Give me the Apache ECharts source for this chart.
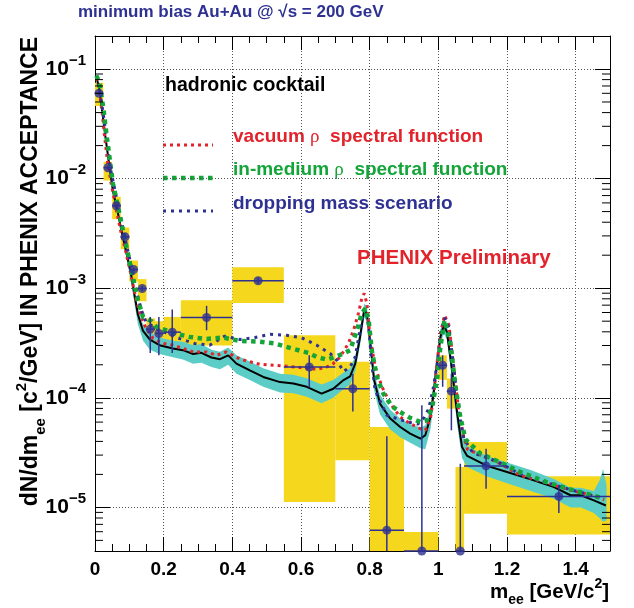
<!DOCTYPE html>
<html><head><meta charset="utf-8">
<script src="https://cdn.jsdelivr.net/npm/echarts@6/dist/echarts.min.js"></script>
<style>html,body{margin:0;padding:0;background:#fff}#c{width:634px;height:608px}</style>
</head><body><div id="c"></div>
<script>
// ---------- axis ticks / labels ----------
const xTicks = [0, 0.2, 0.4, 0.6, 0.8, 1, 1.2, 1.4];
const xTickLabels = ['0', '0.2', '0.4', '0.6', '0.8', '1', '1.2', '1.4'];
const yTicks = [1e-5, 1e-4, 1e-3, 1e-2, 1e-1];
const yTickExponents = ['\u22125', '\u22124', '\u22123', '\u22122', '\u22121'];
const X_MIN = 0, X_MAX = 1.5, Y_MIN = 4e-6, Y_MAX = 0.2;

// ---------- data points (PHENIX preliminary) ----------
const dataX   = [0.0115, 0.0375, 0.0625, 0.0875, 0.1125, 0.1375, 0.161, 0.186, 0.225, 0.325, 0.475, 0.624, 0.751, 0.850, 0.952, 1.0126, 1.038, 1.064, 1.139, 1.351];
const dataY   = [0.060, 0.01257, 0.00565, 0.00294, 0.00148, 0.000993, 4.23e-4, 3.86e-4, 3.97e-4, 5.4e-4, 1.17e-3, 1.91e-4, 1.21e-4, 6.2e-6, 4e-6, 1.98e-4, 1.15e-4, 4e-6, 2.39e-5, 1.26e-5];
const xErrLo  = [0, 0.025, 0.05, 0.075, 0.1, 0.125, 0.15, 0.175, 0.2, 0.25, 0.4, 0.55, 0.7, 0.8, 0.9, 1.0, 1.025, 1.05, 1.075, 1.2];
const xErrHi  = [0.024, 0.05, 0.075, 0.1, 0.125, 0.15, 0.175, 0.2, 0.25, 0.4, 0.55, 0.7, 0.8, 0.9, 1.0, 1.025, 1.05, 1.075, 1.2, 1.5];
const yErrLo  = [0.058, 0.0122, 0.0055, 0.00285, 0.00142, 0.00094, 2.56e-4, 2.45e-4, 2.56e-4, 4.13e-4, 1.1e-3, 1.24e-4, 7.5e-5, 4e-6, 4e-6, 1.26e-4, 5.05e-5, 4e-6, 1.48e-5, 8.87e-6];
const yErrHi  = [0.062, 0.0130, 0.0058, 0.00303, 0.00155, 0.00105, 5.47e-4, 5.47e-4, 6.4e-4, 6.9e-4, 1.25e-3, 2.44e-4, 1.66e-4, 4.45e-5, 8.55e-5, 2.44e-4, 1.66e-4, 2.5e-5, 3.43e-5, 1.59e-5];
// systematic error boxes
const sysX0 = [0, 0.025, 0.05, 0.075, 0.1, 0.125, 0.15, 0.175, 0.2, 0.25, 0.4, 0.55, 0.7, 0.8, 0.9, 1.0, 1.025, 1.05, 1.075, 1.2];
const sysX1 = [0.024, 0.05, 0.075, 0.1, 0.125, 0.15, 0.175, 0.2, 0.25, 0.4, 0.55, 0.7, 0.8, 0.9, 1.0, 1.025, 1.05, 1.075, 1.2, 1.5];
const sysY0 = [0.046, 0.0096, 0.00427, 0.00227, 0.00115, 0.00076, 3.3e-4, 3.0e-4, 3.24e-4, 3.0e-4, 7.34e-4, 1.12e-5, 2.69e-5, 4e-6, 4e-6, 1.46e-4, 7.96e-5, 4e-6, 8.75e-6, 5.66e-6];
const sysY1 = [0.075, 0.0142, 0.00683, 0.00358, 0.00179, 0.00121, 5.3e-4, 5.0e-4, 5.47e-4, 7.76e-4, 1.55e-3, 3.72e-4, 2.13e-4, 5.4e-5, 5.96e-6, 2.44e-4, 1.5e-4, 2.34e-5, 3.94e-5, 1.92e-5];

// ---------- hadronic cocktail ----------
const cocktail = [[0.004,0.085],[0.013,0.0646],[0.023,0.0366],[0.033,0.0209],[0.042,0.0129],[0.052,0.00776],[0.067,0.00479],[0.081,0.00295],[0.096,0.00182],[0.106,0.00129],[0.115,8.71e-4],[0.125,5.75e-4],[0.14,4.07e-4],[0.16,3.39e-4],[0.188,3.02e-4],[0.227,2.82e-4],[0.256,2.72e-4],[0.286,2.51e-4],[0.31,2.57e-4],[0.339,2.33e-4],[0.364,2.25e-4],[0.388,2.44e-4],[0.412,2.05e-4],[0.451,1.78e-4],[0.49,1.55e-4],[0.539,1.39e-4],[0.578,1.35e-4],[0.617,1.26e-4],[0.66,1.09e-4],[0.694,1.21e-4],[0.724,1.45e-4],[0.743,1.57e-4],[0.758,2.05e-4],[0.772,3.59e-4],[0.784,6.31e-4],[0.792,5.87e-4],[0.802,3.13e-4],[0.813,1.45e-4],[0.83,8.85e-5],[0.86,6.46e-5],[0.889,5.41e-5],[0.918,4.71e-5],[0.948,4.24e-5],[0.962,4.55e-5],[0.977,6.68e-5],[0.986,1.09e-4],[0.996,2.05e-4],[1.006,3.59e-4],[1.016,4.59e-4],[1.025,3.99e-4],[1.04,1.78e-4],[1.055,7.16e-5],[1.069,3.55e-5],[1.084,2.95e-5],[1.142,2.39e-5],[1.2,2.1e-5],[1.269,1.8e-5],[1.337,1.53e-5],[1.385,1.29e-5],[1.415,1.29e-5],[1.453,1.16e-5],[1.488,1.04e-5]];
// cocktail systematic band: [x, low, high]
const cocktailBand = [[0.005,0.0776,0.0912],[0.023,0.0339,0.0389],[0.042,0.0117,0.0138],[0.067,0.00437,0.00513],[0.096,0.00162,0.00195],[0.115,7.24e-4,9.55e-4],[0.125,4.68e-4,6.31e-4],[0.14,3.31e-4,4.68e-4],[0.16,2.75e-4,3.98e-4],[0.188,2.51e-4,3.55e-4],[0.227,2.34e-4,3.31e-4],[0.256,2.24e-4,3.24e-4],[0.286,2.04e-4,3.02e-4],[0.31,2.09e-4,3.09e-4],[0.339,1.91e-4,2.75e-4],[0.364,1.82e-4,2.63e-4],[0.388,2.0e-4,2.88e-4],[0.412,1.66e-4,2.45e-4],[0.451,1.45e-4,2.14e-4],[0.49,1.26e-4,1.86e-4],[0.539,1.12e-4,1.66e-4],[0.578,1.10e-4,1.62e-4],[0.617,1.02e-4,1.51e-4],[0.66,8.91e-5,1.32e-4],[0.694,1.0e-4,1.45e-4],[0.724,1.20e-4,1.70e-4],[0.743,1.32e-4,1.86e-4],[0.758,1.74e-4,2.40e-4],[0.772,3.02e-4,4.17e-4],[0.784,5.37e-4,7.24e-4],[0.792,5.01e-4,6.76e-4],[0.802,2.63e-4,3.63e-4],[0.813,1.17e-4,1.70e-4],[0.83,7.08e-5,1.07e-4],[0.86,5.13e-5,7.76e-5],[0.889,4.37e-5,6.46e-5],[0.918,3.89e-5,5.75e-5],[0.948,3.47e-5,5.37e-5],[0.962,3.39e-5,5.62e-5],[0.977,5.13e-5,8.13e-5],[0.986,8.71e-5,1.32e-4],[0.996,1.70e-4,2.45e-4],[1.006,3.02e-4,4.17e-4],[1.016,3.89e-4,5.25e-4],[1.025,3.39e-4,4.68e-4],[1.04,1.45e-4,2.14e-4],[1.055,5.62e-5,8.71e-5],[1.069,2.82e-5,4.27e-5],[1.084,2.34e-5,3.63e-5],[1.142,1.91e-5,2.95e-5],[1.2,1.66e-5,2.57e-5],[1.269,1.41e-5,2.19e-5],[1.337,1.20e-5,1.82e-5],[1.385,1.0e-5,1.51e-5],[1.415,1.0e-5,1.51e-5],[1.453,8.91e-6,1.41e-5],[1.47,7.94e-6,1.78e-5],[1.48,7.41e-6,2.24e-5],[1.49,7.59e-6,1.58e-5]];

// ---------- model curves ----------
const vacuumRho = [[0.004,0.0832],[0.011,0.0692],[0.021,0.0394],[0.028,0.0241],[0.037,0.0138],[0.047,0.00904],[0.062,0.00515],[0.0765,0.00316],[0.091,0.00207],[0.106,0.00127],[0.12,7.76e-4],[0.135,5.47e-4],[0.149,4.27e-4],[0.169,3.48e-4],[0.198,3.13e-4],[0.227,3.02e-4],[0.256,2.82e-4],[0.286,2.62e-4],[0.325,2.62e-4],[0.354,2.44e-4],[0.383,2.62e-4],[0.412,2.33e-4],[0.441,2.17e-4],[0.48,2.02e-4],[0.519,1.98e-4],[0.558,1.94e-4],[0.597,1.89e-4],[0.646,1.82e-4],[0.675,1.91e-4],[0.694,2.05e-4],[0.714,2.36e-4],[0.738,3.13e-4],[0.753,4.13e-4],[0.767,5.87e-4],[0.777,8.05e-4],[0.784,8.95e-4],[0.792,7.24e-4],[0.80,3.85e-4],[0.816,1.91e-4],[0.836,1.26e-4],[0.86,8.85e-5],[0.889,6.68e-5],[0.918,5.81e-5],[0.948,5.22e-5],[0.962,5.05e-5],[0.977,6.46e-5],[0.986,1.02e-4],[0.996,2.05e-4],[1.006,3.85e-4],[1.018,5.66e-4],[1.031,4.59e-4],[1.045,1.91e-4],[1.059,7.69e-5],[1.074,4.39e-5],[1.085,3.39e-5],[1.113,3.09e-5],[1.171,2.59e-5],[1.239,1.96e-5],[1.317,1.67e-5],[1.385,1.43e-5],[1.434,1.32e-5],[1.483,1.17e-5]];
const inMediumRho = [[0.004,0.0871],[0.013,0.0745],[0.025,0.0423],[0.033,0.0259],[0.042,0.0158],[0.052,0.00904],[0.067,0.00553],[0.081,0.00339],[0.096,0.00207],[0.11,0.00127],[0.125,7.76e-4],[0.14,5.47e-4],[0.164,5.01e-4],[0.179,4.44e-4],[0.227,3.91e-4],[0.276,3.59e-4],[0.325,3.44e-4],[0.373,3.55e-4],[0.422,3.30e-4],[0.475,3.26e-4],[0.524,3.13e-4],[0.573,2.82e-4],[0.621,2.57e-4],[0.646,2.36e-4],[0.675,2.23e-4],[0.699,2.36e-4],[0.724,2.53e-4],[0.743,2.72e-4],[0.763,4.13e-4],[0.777,5.87e-4],[0.787,6.53e-4],[0.797,5.11e-4],[0.806,2.72e-4],[0.821,1.55e-4],[0.84,1.09e-4],[0.865,8.36e-5],[0.889,7.41e-5],[0.918,6.55e-5],[0.948,6.01e-5],[0.967,6.24e-5],[0.982,8.24e-5],[0.996,1.45e-4],[1.006,2.91e-4],[1.018,5.11e-4],[1.034,3.35e-4],[1.05,1.26e-4],[1.064,6.68e-5],[1.079,4.17e-5],[1.123,3.09e-5],[1.171,2.65e-5],[1.239,2.10e-5],[1.317,1.69e-5],[1.385,1.46e-5],[1.434,1.33e-5],[1.483,1.20e-5]];
const droppingMass = [[0.004,0.0871],[0.008,0.0766],[0.018,0.0521],[0.028,0.0319],[0.037,0.0189],[0.047,0.0115],[0.062,0.00682],[0.0765,0.00418],[0.091,0.00256],[0.106,0.00157],[0.12,9.59e-4],[0.135,6.31e-4],[0.149,4.9e-4],[0.188,4.13e-4],[0.247,3.47e-4],[0.29,3.13e-4],[0.334,3.02e-4],[0.378,3.65e-4],[0.422,3.40e-4],[0.466,3.55e-4],[0.51,3.80e-4],[0.558,3.72e-4],[0.602,3.52e-4],[0.646,3.02e-4],[0.665,2.77e-4],[0.685,2.53e-4],[0.704,2.20e-4],[0.724,1.74e-4],[0.743,1.91e-4],[0.758,2.36e-4],[0.77,3.85e-4],[0.782,6.08e-4],[0.787,6.46e-4],[0.797,4.44e-4],[0.806,2.05e-4],[0.816,1.17e-4],[0.85,6.92e-5],[0.879,6.46e-5],[0.909,6.03e-5],[0.94,5.75e-5],[0.959,6.61e-5],[0.972,7.94e-5],[0.986,1.26e-4],[0.996,2.0e-4],[1.006,3.63e-4],[1.018,5.37e-4],[1.031,4.37e-4],[1.045,1.86e-4],[1.059,7.59e-5],[1.074,4.27e-5],[1.1,3.16e-5],[1.171,2.63e-5],[1.239,2.0e-5],[1.317,1.68e-5],[1.385,1.45e-5],[1.434,1.32e-5],[1.483,1.19e-5]];

// ---------- styling ----------
const FONT = '"Liberation Sans", Arial, Helvetica, sans-serif';
const NAVY = '#2e3192', YEL = '#f5d81e', CYAN = '#5ccdc6', RED = '#e3232b', GREEN = '#13a538', BLUE = '#2e3192';

const minorXTicks = [];
for (let i = 1; i < 30; i++) if (i % 4 !== 0) minorXTicks.push(i * 0.05);
const minorYTicks = [];
for (let e = -6; e <= -1; e++) for (let k = 2; k <= 9; k++) { const v = k * Math.pow(10, e); if (v > Y_MIN && v < Y_MAX) minorYTicks.push(v); }

const grid = { left: 95, right: 24, top: 36, bottom: 57, outerBoundsMode: 'none', containLabel: false };

function xLabel(v) { const i = xTicks.findIndex(t => Math.abs(t - v) < 1e-9); return i >= 0 ? xTickLabels[i] : ''; }
function yLabel(v) { const i = yTicks.findIndex(t => Math.abs(Math.log10(t) - Math.log10(v)) < 1e-6); return i >= 0 ? '{b|10}{s|' + yTickExponents[i] + '}' : ''; }

const axLine = { show: true, onZero: false, lineStyle: { color: '#000', width: 1 } };
const gridLine = { show: true, lineStyle: { color: '#555', width: 1, type: [1, 2] } };

const xAxes = [
  { gridIndex: 0, type: 'value', position: 'bottom', min: X_MIN, max: X_MAX, interval: 0.2, axisLine: axLine,
    axisTick: { show: true, inside: true, length: 14, lineStyle: { color: '#000' } },
    axisLabel: { show: true, margin: 9, formatter: xLabel, color: '#000', fontFamily: FONT, fontWeight: 'bold', fontSize: 19, showMinLabel: true, showMaxLabel: true, hideOverlap: false },
    splitLine: gridLine },
  { gridIndex: 0, type: 'value', position: 'top', min: X_MIN, max: X_MAX, interval: 0.2, axisLine: axLine,
    axisTick: { show: true, inside: true, length: 14, lineStyle: { color: '#000' } }, axisLabel: { show: false }, splitLine: { show: false } },
  { gridIndex: 1, type: 'value', position: 'bottom', min: X_MIN, max: X_MAX, interval: 0.05, axisLine: { show: false },
    axisTick: { show: true, inside: true, length: 7, lineStyle: { color: '#000' } }, axisLabel: { show: false }, splitLine: { show: false } },
  { gridIndex: 1, type: 'value', position: 'top', min: X_MIN, max: X_MAX, interval: 0.05, axisLine: { show: false },
    axisTick: { show: true, inside: true, length: 7, lineStyle: { color: '#000' } }, axisLabel: { show: false }, splitLine: { show: false } }
];
const yAxes = [
  { gridIndex: 0, type: 'log', logBase: 10, position: 'left', min: Y_MIN, max: Y_MAX, axisLine: axLine,
    axisTick: { show: true, inside: true, length: 15, lineStyle: { color: '#000' } },
    axisLabel: { show: true, margin: 9, formatter: yLabel, showMinLabel: true, showMaxLabel: true, hideOverlap: false,
      rich: { b: { fontFamily: FONT, fontWeight: 'bold', fontSize: 21, color: '#000', lineHeight: 32 },
              s: { fontFamily: FONT, fontWeight: 'bold', fontSize: 15, color: '#000', lineHeight: 15, verticalAlign: 'top' } } },
    splitLine: gridLine },
  { gridIndex: 0, type: 'log', logBase: 10, position: 'right', min: Y_MIN, max: Y_MAX, axisLine: axLine,
    axisTick: { show: true, inside: true, length: 15, lineStyle: { color: '#000' } }, axisLabel: { show: false }, splitLine: { show: false } },
  { gridIndex: 1, type: 'value', show: false, min: 0, max: 1 }
];

const series = [
  { type: 'custom', name: 'systematics', xAxisIndex: 0, yAxisIndex: 0, z: 1, silent: true,
    data: sysX0.map((x, i) => [x, sysX1[i], sysY0[i], sysY1[i]]),
    encode: { x: [0, 1], y: [2, 3] },
    renderItem: (params, api) => {
      const a = api.coord([api.value(0), api.value(3)]);
      const b = api.coord([api.value(1), api.value(2)]);
      return { type: 'rect', shape: { x: a[0], y: a[1], width: b[0] - a[0], height: b[1] - a[1] }, style: { fill: YEL } };
    } },
  { type: 'custom', name: 'cocktail band', xAxisIndex: 0, yAxisIndex: 0, z: 2, silent: true,
    data: [[cocktailBand[0][0], cocktailBand[0][1]]], encode: { x: 0, y: 1 },
    renderItem: (params, api) => {
      const up = cocktailBand.map(b => api.coord([b[0], b[2]]));
      const lo = cocktailBand.map(b => api.coord([b[0], b[1]])).reverse();
      return { type: 'polygon', shape: { points: up.concat(lo) }, style: { fill: CYAN } };
    } },
  { type: 'line', name: 'hadronic cocktail', xAxisIndex: 0, yAxisIndex: 0, z: 3, data: cocktail, symbol: 'none', silent: true,
    lineStyle: { color: '#000', width: 2 } },
  { type: 'line', name: 'vacuum rho', xAxisIndex: 0, yAxisIndex: 0, z: 4, data: vacuumRho, symbol: 'none', silent: true,
    lineStyle: { color: RED, width: 3, type: [3, 4], cap: 'butt' } },
  { type: 'line', name: 'dropping mass', xAxisIndex: 0, yAxisIndex: 0, z: 4, data: droppingMass, symbol: 'none', silent: true,
    lineStyle: { color: BLUE, width: 3, type: [3, 5], cap: 'butt' } },
  { type: 'line', name: 'in-medium rho', xAxisIndex: 0, yAxisIndex: 0, z: 4, data: inMediumRho, symbol: 'none', silent: true,
    lineStyle: { color: GREEN, width: 4.5, type: [4.5, 4.5], cap: 'butt' } },
  { type: 'custom', name: 'error bars', xAxisIndex: 0, yAxisIndex: 0, z: 5, silent: true,
    data: dataX.map((x, i) => [x, dataY[i], xErrLo[i], xErrHi[i], yErrLo[i], yErrHi[i]]),
    encode: { x: 0, y: 1 },
    renderItem: (params, api) => {
      const x = api.value(0), y = api.value(1);
      const l = api.coord([api.value(2), y]), r = api.coord([api.value(3), y]);
      const bt = api.coord([x, api.value(4)]), tp = api.coord([x, api.value(5)]);
      const st = { stroke: NAVY, lineWidth: 1.5 };
      return { type: 'group', children: [
        { type: 'line', shape: { x1: l[0], y1: l[1], x2: r[0], y2: r[1] }, style: st },
        { type: 'line', shape: { x1: bt[0], y1: bt[1], x2: tp[0], y2: tp[1] }, style: st } ] };
    } },
  { type: 'scatter', name: 'data', xAxisIndex: 0, yAxisIndex: 0, z: 6, silent: true, clip: false,
    data: dataX.map((x, i) => [x, dataY[i]]), symbol: 'circle', symbolSize: 9, itemStyle: { color: NAVY } },
  { type: 'custom', name: 'minor y ticks', xAxisIndex: 0, yAxisIndex: 0, z: 7, silent: true,
    data: minorYTicks.map(v => [X_MIN, v]), encode: { x: 0, y: 1 },
    renderItem: (params, api) => {
      const v = api.value(1);
      const a = api.coord([X_MIN, v]), b = api.coord([X_MAX, v]);
      const st = { stroke: '#000', lineWidth: 1 };
      return { type: 'group', children: [
        { type: 'line', shape: { x1: a[0], y1: a[1], x2: a[0] + 8, y2: a[1] }, style: st },
        { type: 'line', shape: { x1: b[0] - 8, y1: b[1], x2: b[0], y2: b[1] }, style: st } ] };
    } }
];

const legendText = (x, y, txt, color, size) => ({ type: 'text', x: x, y: y, silent: true,
  style: { text: txt, fill: color, font: 'bold ' + size + 'px ' + FONT, verticalAlign: 'middle', align: 'left',
    rich: { t: { fontFamily: FONT, fontWeight: 'bold', fontSize: size, fill: color, color: color },
            r: { fontFamily: '"Liberation Serif", "DejaVu Serif", serif', fontWeight: 'normal', fontSize: size, fill: color, color: color } } } });
const legendLine = (x1, x2, y, color, w, dash) => ({ type: 'line', silent: true, shape: { x1: x1, y1: y, x2: x2, y2: y },
  style: { stroke: color, lineWidth: w, lineDash: dash, lineCap: 'butt' } });

const graphics = [
  { type: 'text', x: 78, y: 12, silent: true, style: { text: 'minimum bias Au+Au @ \u221As = 200 GeV', fill: NAVY, font: 'bold 17px ' + FONT, verticalAlign: 'middle', align: 'left' } },
  { type: 'text', x: 31, y: 37, rotation: Math.PI / 2, silent: true,
    style: { text: '{b|dN/dm}{s|ee}{b| [c}{p|2}{b|/GeV] IN PHENIX ACCEPTANCE}', align: 'right', verticalAlign: 'middle',
      rich: { b: { fontFamily: FONT, fontWeight: 'bold', fontSize: 23, fill: '#000', lineHeight: 34 },
              s: { fontFamily: FONT, fontWeight: 'bold', fontSize: 15, fill: '#000', lineHeight: 16, verticalAlign: 'bottom' },
              p: { fontFamily: FONT, fontWeight: 'bold', fontSize: 15, fill: '#000', lineHeight: 16, verticalAlign: 'top' } } } },
  { type: 'text', x: 609, y: 592, silent: true,
    style: { text: '{b|m}{s|ee}{b| [GeV/c}{p|2}{b|]}', align: 'right', verticalAlign: 'middle',
      rich: { b: { fontFamily: FONT, fontWeight: 'bold', fontSize: 20.5, fill: '#000', lineHeight: 30 },
              s: { fontFamily: FONT, fontWeight: 'bold', fontSize: 14, fill: '#000', lineHeight: 14, verticalAlign: 'bottom' },
              p: { fontFamily: FONT, fontWeight: 'bold', fontSize: 14, fill: '#000', lineHeight: 14, verticalAlign: 'top' } } } },
  legendText(165, 86, 'hadronic cocktail', '#000', 19.5),
  legendLine(163, 213, 145, RED, 3, [3, 4]),
  legendText(233, 137, '{t|vacuum }{r|\u03C1}{t|  spectral function}', RED, 19),
  legendLine(163, 216, 178, GREEN, 4.5, [4.5, 4.5]),
  legendText(233, 170, '{t|in-medium }{r|\u03C1}{t|  spectral function}', GREEN, 19),
  legendLine(163, 213, 211, BLUE, 3, [3, 5]),
  legendText(233, 204, 'dropping mass scenario', BLUE, 19),
  legendText(357, 258, 'PHENIX Preliminary', RED, 20.5)
];

const chart = echarts.init(document.getElementById('c'), null, { renderer: 'canvas' });
chart.setOption({
  animation: false,
  backgroundColor: '#fff',
  grid: [grid, Object.assign({}, grid)],
  xAxis: xAxes,
  yAxis: yAxes,
  series: series,
  graphic: graphics
});
</script>
</body></html>
